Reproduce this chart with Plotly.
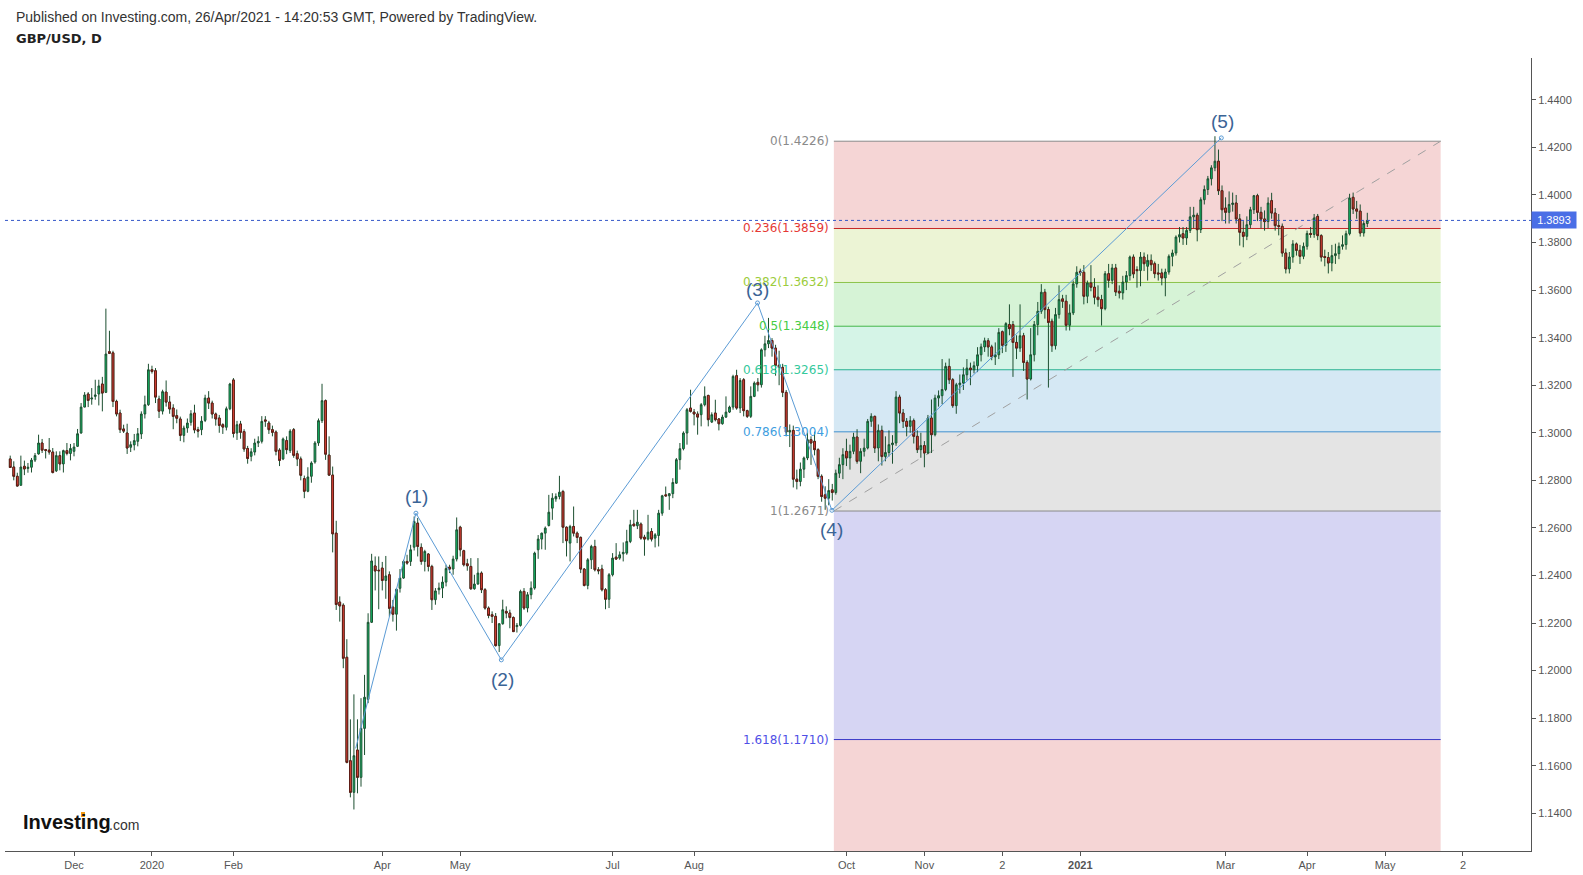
import numpy as np
import pandas as pd
import plotly.graph_objects as go

# ---------------- data (GBP/USD daily) ----------------
start_date = "2019-11-06"

opens = [
1.2890,1.2856,1.2817,1.2779,1.2859,1.2850,1.2855,1.2885,1.2911,1.2957,
1.2929,1.2927,1.2919,1.2840,1.2904,1.2869,1.2925,1.2913,1.2922,1.2943,
1.2999,1.3108,1.3163,1.3142,1.3153,1.3163,1.3205,1.3170,1.3341,1.3336,
1.3132,1.3083,1.3016,1.2999,1.2939,1.2949,1.2964,1.2995,1.3079,1.3118,
1.3265,1.3261,1.3142,1.3091,1.3171,1.3129,1.3104,1.3072,1.3058,1.2989,
1.3020,1.3044,1.3083,1.3013,1.3013,1.3052,1.3146,1.3125,1.3079,1.3062,
1.3034,1.3023,1.3101,1.3222,1.2999,1.3037,1.3005,1.2934,1.2901,1.2919,
1.2957,1.2964,1.3054,1.3041,1.3013,1.3003,1.2927,1.2890,1.2967,1.2925,
1.3013,1.2912,1.2890,1.2807,1.2754,1.2817,1.2877,1.2957,1.3051,1.3135,
1.2906,1.2822,1.2578,1.2288,1.2275,1.2056,1.1621,1.1488,1.1666,1.1551,
1.1757,1.1879,1.2203,1.2440,1.2422,1.2431,1.2379,1.2403,1.2267,1.2237,
1.2346,1.2389,1.2459,1.2459,1.2519,1.2620,1.2518,1.2459,1.2490,1.2438,
1.2298,1.2340,1.2347,1.2372,1.2435,1.2427,1.2469,1.2603,1.2504,1.2449,
1.2438,1.2344,1.2364,1.2410,1.2340,1.2263,1.2235,1.2228,1.2105,1.2197,
1.2249,1.2242,1.2223,1.2185,1.2190,1.2333,1.2263,1.2319,1.2347,1.2508,
1.2553,1.2578,1.2610,1.2683,1.2722,1.2732,1.2753,1.2603,1.2536,1.2606,
1.2578,1.2560,1.2427,1.2358,1.2466,1.2522,1.2424,1.2427,1.2340,1.2300,
1.2403,1.2477,1.2473,1.2491,1.2494,1.2543,1.2616,1.2609,1.2616,1.2561,
1.2553,1.2585,1.2557,1.2568,1.2662,1.2739,1.2735,1.2744,1.2788,1.2887,
1.2933,1.2999,1.3104,1.3087,1.3079,1.3076,1.3118,1.3157,1.3045,1.3083,
1.3058,1.3038,1.3066,1.3087,1.3108,1.3240,1.3104,1.3223,1.3093,1.3069,
1.3153,1.3212,1.3202,1.3349,1.3374,1.3388,1.3356,1.3284,1.3275,1.3170,
1.3003,1.3010,1.2805,1.2795,1.2847,1.2894,1.2971,1.2964,1.2929,1.2817,
1.2739,1.2725,1.2760,1.2749,1.2830,1.2866,1.2922,1.2894,1.2922,1.2982,
1.2880,1.2922,1.2936,1.3048,1.3069,1.2936,1.3010,1.2900,1.2917,1.2950,
1.2957,1.3150,1.3083,1.3048,1.3027,1.3051,1.2985,1.2929,1.2946,1.2915,
1.3062,1.2992,1.3146,1.3156,1.3182,1.3279,1.3223,1.3114,1.3202,1.3209,
1.3244,1.3272,1.3265,1.3282,1.3328,1.3361,1.3387,1.3361,1.3319,1.3328,
1.3425,1.3368,1.3455,1.3455,1.3380,1.3356,1.3408,1.3296,1.3226,1.3328,
1.3455,1.3511,1.3591,1.3518,1.3469,1.3366,1.3497,1.3563,1.3553,1.3452,
1.3504,1.3626,1.3679,1.3675,1.3574,1.3630,1.3612,1.3570,1.3560,1.3522,
1.3669,1.3641,1.3693,1.3595,1.3588,1.3634,1.3661,1.3739,1.3686,1.3682,
1.3739,1.3700,1.3725,1.3711,1.3672,1.3672,1.3651,1.3676,1.3742,1.3756,
1.3823,1.3837,1.3819,1.3851,1.3908,1.3915,1.3854,1.3980,1.4023,1.4068,
1.4114,1.4142,1.4018,1.3945,1.3927,1.3960,1.3966,1.3899,1.3843,1.3826,
1.3875,1.3938,1.3997,1.3927,1.3899,1.3888,1.3976,1.3924,1.3871,1.3868,
1.3756,1.3689,1.3739,1.3794,1.3767,1.3742,1.3784,1.3838,1.3834,1.3910,
1.3829,1.3741,1.3737,1.3714,1.3745,1.3753,1.3784,1.3791,1.3837,1.3990,
1.3941,1.3932,1.3840,1.3880]

highs = [
1.2904,1.2880,1.2832,1.2904,1.2883,1.2873,1.2894,1.2915,1.2992,1.2974,
1.2932,1.2978,1.2936,1.2922,1.2922,1.2929,1.2957,1.2953,1.2957,1.3016,
1.3125,1.3171,1.3171,1.3188,1.3223,1.3223,1.3235,1.3522,1.3429,1.3345,
1.3139,1.3097,1.3034,1.3038,1.2964,1.2995,1.3020,1.3090,1.3156,1.3290,
1.3282,1.3272,1.3156,1.3181,1.3220,1.3155,1.3120,1.3098,1.3068,1.3030,
1.3060,1.3095,1.3118,1.3025,1.3070,1.3160,1.3175,1.3135,1.3085,1.3075,
1.3040,1.3110,1.3210,1.3230,1.3050,1.3050,1.3015,1.2945,1.2935,1.2975,
1.2985,1.3070,1.3070,1.3050,1.3030,1.3010,1.2935,1.2980,1.2985,1.3015,
1.3020,1.2925,1.2900,1.2820,1.2855,1.2880,1.2965,1.3060,1.3206,1.3140,
1.2985,1.2858,1.2630,1.2312,1.2283,1.2132,1.1795,1.1900,1.1795,1.1884,
1.1982,1.2241,1.2491,1.2480,1.2480,1.2457,1.2482,1.2417,1.2297,1.2346,
1.2427,1.2466,1.2487,1.2529,1.2648,1.2642,1.2535,1.2508,1.2494,1.2445,
1.2347,1.2370,1.2396,1.2445,1.2445,1.2483,1.2644,1.2609,1.2508,1.2470,
1.2473,1.2403,1.2473,1.2417,1.2347,1.2270,1.2249,1.2242,1.2200,1.2298,
1.2270,1.2256,1.2228,1.2200,1.2340,1.2347,1.2330,1.2375,1.2500,1.2570,
1.2580,1.2606,1.2739,1.2746,1.2745,1.2819,1.2760,1.2606,1.2613,1.2690,
1.2585,1.2564,1.2431,1.2473,1.2529,1.2550,1.2435,1.2445,1.2347,1.2410,
1.2494,1.2536,1.2501,1.2539,1.2592,1.2634,1.2676,1.2676,1.2623,1.2571,
1.2655,1.2599,1.2578,1.2676,1.2739,1.2774,1.2746,1.2809,1.2894,1.2957,
1.3006,1.3104,1.3181,1.3100,1.3090,1.3125,1.3195,1.3160,1.3086,1.3139,
1.3062,1.3076,1.3153,1.3114,1.3244,1.3265,1.3230,1.3230,1.3097,1.3195,
1.3216,1.3230,1.3355,1.3408,1.3483,1.3398,1.3370,1.3345,1.3290,1.3180,
1.3035,1.3030,1.2845,1.2875,1.2900,1.3000,1.2985,1.3005,1.2935,1.2825,
1.2775,1.2805,1.2785,1.2845,1.2895,1.2935,1.2975,1.2950,1.3000,1.3015,
1.2935,1.2975,1.3058,1.3082,1.3072,1.3035,1.3030,1.2985,1.3010,1.2990,
1.3175,1.3160,1.3100,1.3062,1.3070,1.3060,1.3010,1.3000,1.2965,1.3075,
1.3140,1.3160,1.3178,1.3310,1.3295,1.3312,1.3230,1.3210,1.3245,1.3275,
1.3310,1.3295,1.3300,1.3360,1.3375,1.3400,1.3398,1.3370,1.3380,1.3440,
1.3430,1.3465,1.3540,1.3470,1.3410,1.3540,1.3420,1.3305,1.3440,1.3470,
1.3550,1.3625,1.3605,1.3530,1.3480,1.3525,1.3620,1.3580,1.3580,1.3540,
1.3640,1.3700,1.3690,1.3705,1.3640,1.3705,1.3650,1.3620,1.3580,1.3680,
1.3710,1.3710,1.3710,1.3620,1.3660,1.3680,1.3745,1.3750,1.3700,1.3760,
1.3758,1.3750,1.3750,1.3720,1.3710,1.3690,1.3690,1.3750,1.3770,1.3830,
1.3865,1.3865,1.3865,1.3950,1.3950,1.3925,1.3990,1.4040,1.4080,1.4125,
1.4247,1.4191,1.4040,1.3990,1.4015,1.4010,1.4000,1.3920,1.3890,1.3910,
1.3950,1.4000,1.4005,1.3950,1.3935,1.3990,1.4009,1.3945,1.3920,1.3880,
1.3775,1.3760,1.3810,1.3800,1.3790,1.3800,1.3850,1.3865,1.3920,1.3920,
1.3835,1.3770,1.3760,1.3790,1.3795,1.3800,1.3830,1.3850,1.4005,1.4010,
1.3975,1.3960,1.3890,1.3925]

lows = [
1.2852,1.2800,1.2775,1.2779,1.2822,1.2832,1.2833,1.2877,1.2908,1.2915,
1.2892,1.2908,1.2829,1.2835,1.2842,1.2833,1.2905,1.2884,1.2901,1.2940,
1.2996,1.3107,1.3108,1.3118,1.3139,1.3115,1.3090,1.3167,1.3331,1.3108,
1.3069,1.2999,1.2999,1.2911,1.2919,1.2926,1.2943,1.2974,1.3060,1.3113,
1.3249,1.3125,1.3062,1.3077,1.3110,1.3080,1.3015,1.3040,1.2965,1.2960,
1.3000,1.3030,1.2998,1.2980,1.2990,1.3045,1.3100,1.3060,1.3030,1.3000,
1.2995,1.3010,1.3095,1.2980,1.2970,1.2975,1.2920,1.2870,1.2880,1.2905,
1.2940,1.2955,1.3025,1.2995,1.2985,1.2905,1.2860,1.2885,1.2910,1.2915,
1.2895,1.2860,1.2800,1.2725,1.2750,1.2790,1.2870,1.2945,1.3041,1.2886,
1.2819,1.2497,1.2255,1.2206,1.2010,1.1610,1.1467,1.1416,1.1484,1.1512,
1.1645,1.1863,1.2200,1.2337,1.2258,1.2337,1.2302,1.2227,1.2206,1.2168,
1.2328,1.2386,1.2445,1.2440,1.2505,1.2480,1.2445,1.2417,1.2417,1.2255,
1.2277,1.2320,1.2305,1.2354,1.2410,1.2403,1.2459,1.2480,1.2438,1.2420,
1.2340,1.2340,1.2361,1.2326,1.2256,1.2220,1.2200,1.2101,1.2078,1.2193,
1.2220,1.2178,1.2162,1.2160,1.2185,1.2255,1.2245,1.2300,1.2340,1.2470,
1.2510,1.2508,1.2606,1.2634,1.2710,1.2720,1.2536,1.2480,1.2459,1.2564,
1.2536,1.2410,1.2354,1.2342,1.2427,1.2417,1.2405,1.2333,1.2258,1.2263,
1.2396,1.2466,1.2466,1.2459,1.2487,1.2536,1.2606,1.2595,1.2550,1.2483,
1.2547,1.2543,1.2518,1.2522,1.2651,1.2732,1.2676,1.2725,1.2785,1.2845,
1.2926,1.2950,1.3085,1.3031,1.2992,1.3027,1.3111,1.3027,1.3041,1.3048,
1.3010,1.3034,1.3062,1.3083,1.3097,1.3097,1.3083,1.3069,1.3062,1.3062,
1.3150,1.3174,1.3190,1.3320,1.3356,1.3320,1.3240,1.3200,1.3150,1.2985,
1.2940,1.2770,1.2762,1.2775,1.2810,1.2885,1.2865,1.2905,1.2805,1.2710,
1.2676,1.2695,1.2715,1.2740,1.2810,1.2805,1.2860,1.2845,1.2910,1.2870,
1.2830,1.2900,1.2930,1.3025,1.2915,1.2880,1.2862,1.2880,1.2900,1.2870,
1.2945,1.3040,1.3020,1.2985,1.3000,1.2955,1.2915,1.2895,1.2855,1.2910,
1.2915,1.2985,1.3110,1.3120,1.3175,1.3205,1.3105,1.3080,1.3165,1.3180,
1.3220,1.3200,1.3250,1.3255,1.3300,1.3340,1.3320,1.3305,1.3285,1.3310,
1.3335,1.3340,1.3410,1.3235,1.3310,1.3340,1.3260,1.3140,1.3220,1.3300,
1.3410,1.3500,1.3480,1.3190,1.3340,1.3350,1.3480,1.3525,1.3430,1.3430,
1.3495,1.3610,1.3660,1.3540,1.3545,1.3595,1.3540,1.3530,1.3451,1.3515,
1.3610,1.3625,1.3575,1.3565,1.3560,1.3600,1.3640,1.3650,1.3610,1.3616,
1.3680,1.3640,1.3680,1.3650,1.3640,1.3620,1.3574,1.3665,1.3700,1.3745,
1.3800,1.3790,1.3790,1.3840,1.3860,1.3805,1.3840,1.3960,1.4000,1.4040,
1.4100,1.4000,1.3890,1.3880,1.3880,1.3930,1.3880,1.3787,1.3780,1.3810,
1.3860,1.3920,1.3890,1.3860,1.3850,1.3860,1.3900,1.3850,1.3830,1.3740,
1.3670,1.3670,1.3715,1.3745,1.3710,1.3730,1.3770,1.3820,1.3820,1.3810,
1.3720,1.3700,1.3670,1.3679,1.3710,1.3730,1.3770,1.3770,1.3830,1.3920,
1.3900,1.3825,1.3825,1.3865]

closes = [
1.2854,1.2817,1.2776,1.2856,1.2848,1.2855,1.2885,1.2904,1.2957,1.2927,
1.2926,1.2919,1.2833,1.2904,1.2869,1.2925,1.2913,1.2934,1.2940,1.2996,
1.3108,1.3159,1.3136,1.3146,1.3159,1.3197,1.3167,1.3331,1.3334,1.3132,
1.3079,1.3013,1.3007,1.2936,1.2950,1.2967,1.2996,1.3079,1.3118,1.3265,
1.3258,1.3150,1.3091,1.3173,1.3129,1.3100,1.3069,1.3061,1.2989,1.3020,
1.3041,1.3080,1.3012,1.3007,1.3049,1.3146,1.3125,1.3079,1.3058,1.3031,
1.3024,1.3101,1.3205,1.2997,1.3034,1.3002,1.2932,1.2892,1.2920,1.2957,
1.2964,1.3048,1.3049,1.3013,1.3002,1.2922,1.2884,1.2974,1.2929,1.3007,
1.2905,1.2890,1.2821,1.2754,1.2814,1.2873,1.2957,1.3051,1.3135,1.2910,
1.2822,1.2575,1.2278,1.2272,1.2052,1.1614,1.1488,1.1642,1.1551,1.1757,
1.1888,1.2203,1.2461,1.2419,1.2420,1.2379,1.2398,1.2262,1.2237,1.2342,
1.2389,1.2459,1.2452,1.2508,1.2627,1.2522,1.2459,1.2501,1.2438,1.2298,
1.2335,1.2347,1.2372,1.2429,1.2427,1.2469,1.2592,1.2508,1.2445,1.2441,
1.2344,1.2364,1.2410,1.2340,1.2263,1.2232,1.2228,1.2105,1.2197,1.2256,
1.2242,1.2223,1.2164,1.2190,1.2333,1.2263,1.2319,1.2347,1.2494,1.2553,
1.2578,1.2599,1.2666,1.2725,1.2732,1.2750,1.2603,1.2546,1.2606,1.2578,
1.2560,1.2427,1.2358,1.2466,1.2522,1.2424,1.2420,1.2340,1.2300,1.2403,
1.2473,1.2469,1.2487,1.2497,1.2543,1.2613,1.2609,1.2624,1.2557,1.2553,
1.2582,1.2553,1.2571,1.2662,1.2735,1.2735,1.2744,1.2791,1.2887,1.2933,
1.2999,1.3097,1.3090,1.3079,1.3066,1.3118,1.3153,1.3055,1.3076,1.3055,
1.3038,1.3066,1.3087,1.3108,1.3237,1.3104,1.3220,1.3093,1.3069,1.3153,
1.3209,1.3202,1.3349,1.3374,1.3388,1.3356,1.3284,1.3275,1.3170,1.3003,
1.3010,1.2805,1.2795,1.2847,1.2894,1.2971,1.2957,1.2929,1.2817,1.2732,
1.2725,1.2757,1.2749,1.2830,1.2866,1.2908,1.2894,1.2922,1.2982,1.2880,
1.2922,1.2936,1.3048,1.3069,1.2936,1.3010,1.2900,1.2917,1.2950,1.2957,
1.3150,1.3083,1.3048,1.3027,1.3051,1.2985,1.2929,1.2946,1.2915,1.3062,
1.2992,1.3146,1.3156,1.3182,1.3279,1.3223,1.3114,1.3202,1.3209,1.3244,
1.3272,1.3265,1.3282,1.3328,1.3361,1.3387,1.3361,1.3319,1.3328,1.3422,
1.3368,1.3459,1.3438,1.3380,1.3356,1.3408,1.3296,1.3226,1.3328,1.3455,
1.3511,1.3591,1.3518,1.3464,1.3366,1.3497,1.3560,1.3553,1.3452,1.3504,
1.3626,1.3675,1.3675,1.3574,1.3630,1.3612,1.3570,1.3560,1.3522,1.3669,
1.3641,1.3693,1.3592,1.3588,1.3634,1.3661,1.3739,1.3668,1.3682,1.3739,
1.3711,1.3725,1.3707,1.3669,1.3668,1.3651,1.3676,1.3742,1.3756,1.3823,
1.3833,1.3819,1.3851,1.3908,1.3915,1.3854,1.3980,1.4023,1.4068,1.4114,
1.4142,1.4018,1.3938,1.3927,1.3960,1.3966,1.3899,1.3843,1.3826,1.3875,
1.3938,1.3997,1.3927,1.3899,1.3888,1.3966,1.3924,1.3871,1.3868,1.3756,
1.3689,1.3739,1.3794,1.3767,1.3742,1.3784,1.3838,1.3834,1.3903,1.3829,
1.3739,1.3737,1.3714,1.3745,1.3753,1.3784,1.3791,1.3837,1.3987,1.3941,
1.3932,1.3840,1.3880,1.3893]

tick_dates = ["2019-12-02", "2020-01-01", "2020-02-03", "2020-04-01", "2020-05-01",
              "2020-07-01", "2020-08-03", "2020-10-01", "2020-11-02", "2020-12-02",
              "2021-01-01", "2021-03-01", "2021-04-01", "2021-05-03", "2021-06-02"]
tick_labels = ["Dec", "2020", "Feb", "Apr", "May", "Jul", "Aug", "Oct", "Nov", "2",
               "<b>2021</b>", "Mar", "Apr", "May", "2"]

# Fibonacci retracement (drawn from 1.2671 to 1.4226)
fib_levels = ["0", "0.236", "0.382", "0.5", "0.618", "0.786", "1", "1.618"]
fib_prices = [1.4226, 1.3859, 1.3632, 1.3448, 1.3265, 1.3004, 1.2671, 1.1710]

# Elliott wave drawing points (bar position, price)
wave_bars = [97.5, 114.5, 138.6, 210.9, 231.9, 341.8]
wave_prices = [1.1673, 1.2662, 1.2045, 1.3546, 1.2674, 1.4240]
wave_names = ["(1)", "(2)", "(3)", "(4)", "(5)"]
last_price = 1.3893

# ---------------- styling ----------------
GREEN = "#0fbf6a"
RED = "#f2483c"
WICK = "#1c4f30"
RED_EDGE = "#5e1d16"
fib_line_colors = ["#8a8a8a", "#c62828", "#8bc34a", "#43b649", "#25b08f", "#3f8fcf", "#8a8a8a", "#3737c8"]
fib_text_colors = ["#8a8a8a", "#e53935", "#9ccc3c", "#45cc45", "#35c99c", "#3f9ee0", "#8a8a8a", "#4f4fe6"]
fib_fill_colors = ["#f5d5d5", "#ecf4d5", "#d6f3d6", "#d5f4e7", "#d5e8f4", "#e4e4e4", "#d6d5f3", "#f5d5d5"]

n = len(closes)
xs = np.arange(n)


def bidx(d):
    return len(pd.bdate_range(start_date, d)) - 1


tick_vals = [bidx(d) for d in tick_dates]

X_RANGE = [-1.475, 429.2]
Y_RANGE = [1.12414, 1.45759]
FIB_X0, FIB_X1 = 232.45, 403.7

fig = go.Figure()

# all candles (wicks dark green)
fig.add_trace(go.Candlestick(
    x=xs, open=opens, high=highs, low=lows, close=closes,
    increasing=dict(fillcolor=GREEN, line=dict(color=WICK, width=1)),
    decreasing=dict(fillcolor=RED, line=dict(color=WICK, width=1)),
    whiskerwidth=0, showlegend=False, hoverinfo="skip"))

# red bodies with dark red edge on top
dn = [i for i in range(n) if closes[i] < opens[i]]
fig.add_trace(go.Candlestick(
    x=[xs[i] for i in dn],
    open=[opens[i] for i in dn], close=[closes[i] for i in dn],
    high=[opens[i] for i in dn], low=[closes[i] for i in dn],
    increasing=dict(fillcolor=GREEN, line=dict(color=WICK, width=1)),
    decreasing=dict(fillcolor=RED, line=dict(color=RED_EDGE, width=1)),
    whiskerwidth=0, showlegend=False, hoverinfo="skip"))

# Elliott wave line
fig.add_trace(go.Scatter(
    x=wave_bars, y=wave_prices, mode="lines",
    line=dict(color="#5b9bd5", width=1), showlegend=False, hoverinfo="skip"))
fig.add_trace(go.Scatter(
    x=wave_bars[1:], y=wave_prices[1:], mode="markers",
    marker=dict(symbol="circle-open", size=4, color="#5b9bd5", line=dict(width=1)),
    showlegend=False, hoverinfo="skip"))

shapes = []
# fib bands
bounds = fib_prices + [Y_RANGE[0]]
for i in range(len(fib_prices)):
    shapes.append(dict(type="rect", xref="x", yref="y", x0=FIB_X0, x1=FIB_X1,
                       y0=bounds[i + 1], y1=bounds[i], fillcolor=fib_fill_colors[i],
                       line=dict(width=0), layer="below"))
for i, p in enumerate(fib_prices):
    shapes.append(dict(type="line", xref="x", yref="y", x0=FIB_X0, x1=FIB_X1, y0=p, y1=p,
                       line=dict(color=fib_line_colors[i], width=1), layer="below"))
# fib trend line (dashed)
shapes.append(dict(type="line", xref="x", yref="y", x0=FIB_X0, x1=FIB_X1,
                   y0=fib_prices[6], y1=fib_prices[0],
                   line=dict(color="#a0a0a0", width=1, dash="dash"), layer="below"))
# last price dotted line
shapes.append(dict(type="line", xref="paper", yref="y", x0=0, x1=1, y0=last_price, y1=last_price,
                   line=dict(color="#3457c9", width=1, dash="dot"), layer="above"))
# orange accent of the logo
shapes.append(dict(type="rect", xref="paper", yref="paper",
                   x0=(81 - 5) / 1526, x1=(85 - 5) / 1526,
                   y0=(851 - 817) / 793, y1=(851 - 812) / 793,
                   fillcolor="#f39c12", line=dict(width=0), layer="above"))

annotations = []
for i, p in enumerate(fib_prices):
    annotations.append(dict(x=FIB_X0, y=p, xref="x", yref="y", xanchor="right", yanchor="middle",
                            xshift=-3, showarrow=False, text=f"{fib_levels[i]}({p:.4f})",
                            font=dict(family="DejaVu Sans", size=12, color=fib_text_colors[i])))

label_pos = [(114.8, 1.2731), (138.8, 1.1961), (210.8, 1.3602), (231.7, 1.2592), (342.0, 1.4309)]
for (lx, ly), name in zip(label_pos, wave_names):
    annotations.append(dict(x=lx, y=ly, xref="x", yref="y", showarrow=False, text=name,
                            font=dict(family="Liberation Sans", size=19, color="#3a6496")))

# last price tag
annotations.append(dict(x=1, xref="paper", y=last_price, yref="y", xanchor="left", yanchor="middle",
                        showarrow=False, text=f"{last_price:.4f}", bgcolor="#4a6ee6",
                        font=dict(family="Liberation Sans", size=11, color="white"),
                        width=42, height=14, borderpad=1))

# header
annotations.append(dict(x=(14 - 5) / 1526, y=1 + (58 - 17) / 793, xref="paper", yref="paper",
                        xanchor="left", yanchor="middle", showarrow=False,
                        text="Published on Investing.com, 26/Apr/2021 - 14:20:53 GMT, Powered by TradingView.",
                        font=dict(family="Liberation Sans", size=14, color="#333333")))
annotations.append(dict(x=(14 - 5) / 1526, y=1 + (58 - 39) / 793, xref="paper", yref="paper",
                        xanchor="left", yanchor="middle", showarrow=False,
                        text="<b>GBP/USD, D</b>",
                        font=dict(family="DejaVu Sans", size=13, color="#222222")))
# logo
annotations.append(dict(x=(21 - 5) / 1526, y=(851 - 822) / 793, xref="paper", yref="paper",
                        xanchor="left", yanchor="middle", showarrow=False,
                        text="<b>Investing</b>",
                        font=dict(family="Liberation Sans", size=20, color="#111111")))
annotations.append(dict(x=(107 - 5) / 1526, y=(851 - 825) / 793, xref="paper", yref="paper",
                        xanchor="left", yanchor="middle", showarrow=False,
                        text=".com",
                        font=dict(family="Liberation Sans", size=14, color="#333333")))

fig.update_layout(
    width=1583, height=875,
    margin=dict(l=5, r=52, t=58, b=24),
    paper_bgcolor="white", plot_bgcolor="white",
    font=dict(family="Liberation Sans", size=11, color="#555555"),
    shapes=shapes, annotations=annotations, showlegend=False,
    xaxis=dict(range=X_RANGE, rangeslider=dict(visible=False), showgrid=False, zeroline=False,
               showline=True, linecolor="#555555", linewidth=1,
               tickmode="array", tickvals=tick_vals, ticktext=tick_labels,
               ticks="outside", ticklen=4, tickcolor="#555555",
               tickfont=dict(family="Liberation Sans", size=11, color="#555555")),
    yaxis=dict(range=Y_RANGE, side="right", showgrid=False, zeroline=False,
               showline=True, linecolor="#555555", linewidth=1,
               tickmode="linear", tick0=1.14, dtick=0.02, tickformat=".4f",
               ticks="outside", ticklen=4, tickcolor="#555555",
               tickfont=dict(family="Liberation Sans", size=11, color="#555555")),
)

fig.write_html("out.html", config={"displayModeBar": False},
               post_script="document.body.style.margin='0';")
